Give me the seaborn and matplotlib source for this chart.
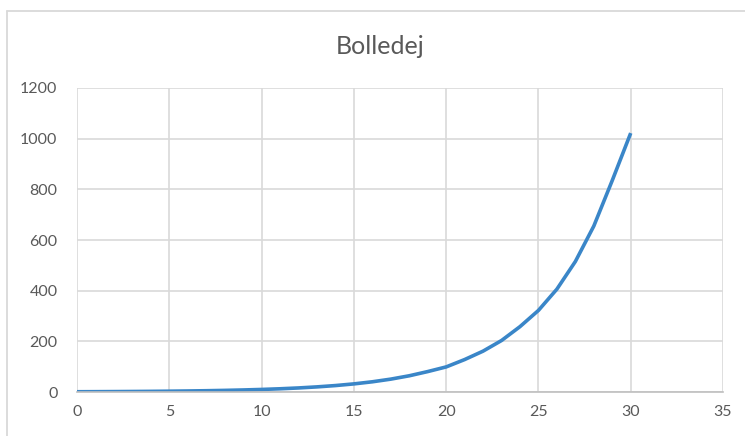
import matplotlib
matplotlib.use("Agg")
import matplotlib.pyplot as plt
from matplotlib.lines import Line2D
import seaborn as sns
import pandas as pd

# Bolledej: number of buns per day
days = [0, 1, 2, 3, 4, 5, 6, 7, 8, 9, 10, 11, 12, 13, 14, 15,
        16, 17, 18, 19, 20, 21, 22, 23, 24, 25, 26, 27, 28, 29, 30]
buns = [1, 1.26, 1.59, 2, 2.52, 3.17, 4, 5.04, 6.35, 8, 10.08, 12.7, 16,
        20.2, 25.4, 32, 40.3, 50.8, 64, 80.6, 99, 128, 161.3, 203.2,
        258, 322, 406, 515, 655, 835, 1022]
x_ticks = [0, 5, 10, 15, 20, 25, 30, 35]
y_ticks = [0, 200, 400, 600, 800, 1000, 1200]
title = "Bolledej"

df = pd.DataFrame({"dag": days, "boller": buns})

sns.set_theme(style="white")
plt.rcParams["font.family"] = ["Lato", "DejaVu Sans"]

grid_col = "#d9d9d9"
text_col = "#595959"

fig = plt.figure(figsize=(7.45, 4.36), dpi=100)
ax = fig.add_axes([77 / 745, 1 - 392 / 436, (723 - 77) / 745, (392 - 88) / 436])

sns.lineplot(data=df, x="dag", y="boller", ax=ax, color="#3a86c8",
             linewidth=2.6, solid_capstyle="butt", solid_joinstyle="round")

ax.set_xlim(0, 35)
ax.set_ylim(0, 1200)
ax.set_xticks(x_ticks)
ax.set_yticks(y_ticks)
ax.grid(True, color=grid_col, linewidth=1.2)
ax.set_axisbelow(True)
for side in ["top", "right", "left"]:
    ax.spines[side].set_visible(False)
ax.spines["bottom"].set_color("#bfbfbf")
ax.spines["bottom"].set_linewidth(1.2)
ax.set_xlabel("")
ax.set_ylabel("")
ax.tick_params(axis="both", length=0, labelsize=11.5, labelcolor=text_col)
ax.tick_params(axis="x", pad=9)
ax.tick_params(axis="y", pad=14)

fig.text(380 / 745, 1 - 47 / 436, title, ha="center", va="center",
         fontsize=18, color=text_col)

# chart-area frame
fig.add_artist(Line2D([7 / 745, 1.0], [1 - 11 / 436, 1 - 11 / 436],
                      transform=fig.transFigure, color="#d9d9d9", linewidth=1.3))
fig.add_artist(Line2D([7 / 745, 7 / 745], [0.0, 1 - 11 / 436],
                      transform=fig.transFigure, color="#d9d9d9", linewidth=1.3))

fig.savefig("out.png", dpi=100, facecolor="white")
